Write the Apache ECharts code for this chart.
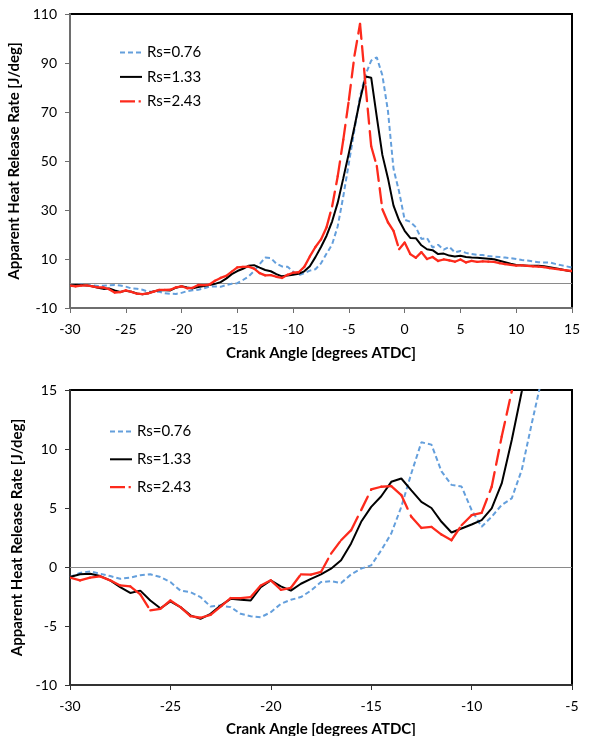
<!DOCTYPE html>
<html>
<head>
<meta charset="utf-8">
<script src="https://cdn.jsdelivr.net/npm/echarts@6/dist/echarts.min.js"></script>
<style>
  html, body { margin: 0; padding: 0; background: #fff; }
  .panel { width: 600px; height: 368px; }
</style>
</head>
<body>
<div id="overview" class="panel"></div>
<div id="detail" class="panel"></div>
<script>
// Crank angle [deg ATDC], sampled every half degree
const angles = [-30,-29.5,-29,-28.5,-28,-27.5,-27,-26.5,-26,-25.5,-25,-24.5,-24,-23.5,-23,-22.5,-22,-21.5,-21,-20.5,
  -20,-19.5,-19,-18.5,-18,-17.5,-17,-16.5,-16,-15.5,-15,-14.5,-14,-13.5,-13,-12.5,-12,-11.5,-11,-10.5,
  -10,-9.5,-9,-8.5,-8,-7.5,-7,-6.5,-6,-5.5,-5,-4.5,-4,-3.5,-3,-2.5,-2,-1.5,-1,-0.5,
  0,0.5,1,1.5,2,2.5,3,3.5,4,4.5,5,5.5,6,6.5,7,7.5,8,8.5,9,9.5,
  10,10.5,11,11.5,12,12.5,13,13.5,14,14.5,15];

// Apparent heat release rate [J/deg]
const rs076 = [-0.85,-0.5,-0.37,-0.57,-0.77,-1.0,-0.9,-0.7,-0.62,-0.85,
  -1.28,-2.0,-2.13,-2.55,-3.35,-3.27,-3.4,-3.97,-4.17,-4.26,
  -3.83,-3.12,-2.78,-2.55,-2.0,-1.28,-1.2,-1.36,-0.62,-0.14,
  0.14,1.42,2.84,5.1,7.95,10.57,10.37,8.1,6.96,6.82,
  4.83,3.41,4.26,5.26,5.82,8.24,12.2,16.0,23.4,35.6,
  49.2,62.8,76.4,85.3,91.0,92.3,85.0,70.5,46.8,37.5,
  26.0,25.2,23.0,18.2,18.6,14.7,15.8,13.8,15.0,12.7,
  13.3,12.5,12.0,11.7,11.6,11.2,11.0,10.8,10.6,10.3,
  10.0,9.6,9.4,9.0,8.7,8.6,8.6,8.0,7.5,7.0,
  6.5];

const rs133 = [-0.85,-0.62,-0.57,-0.77,-1.13,-1.7,-2.2,-2.0,-2.84,-3.5,
  -2.92,-3.4,-4.1,-4.4,-3.97,-3.27,-2.7,-2.78,-2.84,-1.7,
  -1.13,-1.64,-2.0,-1.42,-1.0,-0.62,-0.14,0.57,2.0,3.83,
  5.1,6.0,7.22,7.5,6.5,5.52,5.0,3.83,2.92,3.26,
  3.6,3.97,4.96,7.08,10.76,14.9,19.5,25.4,33.0,43.0,
  53.3,64.0,75.0,84.5,84.0,68.0,52.5,43.0,31.8,25.8,
  21.5,18.6,18.5,15.6,14.0,13.6,12.0,12.2,11.4,11.0,
  11.3,10.8,10.6,10.5,10.3,10.1,9.9,9.3,8.7,8.1,
  7.6,7.4,7.2,7.2,7.2,7.0,6.6,6.2,5.8,5.3,
  4.9];

const rs243 = [-0.9,-1.13,-0.9,-0.8,-1.13,-1.56,-1.64,-2.32,-3.68,-3.54,
  -2.84,-3.4,-4.17,-4.3,-4.05,-3.35,-2.63,-2.63,-2.55,-1.56,
  -1.13,-1.93,-1.76,-0.62,-0.65,-0.42,1.13,2.27,3.12,4.82,
  6.57,6.8,6.86,6.1,4.25,3.31,3.4,2.75,2.27,3.54,
  4.39,4.59,6.8,11.05,14.9,18.0,23.0,31.5,43.8,58.7,
  75.0,93.0,106.0,80.5,56.0,48.0,30.3,25.0,21.5,14.0,
  16.7,12.0,10.5,12.8,10.0,10.8,9.2,9.8,9.4,8.9,
  9.8,8.6,9.2,8.8,9.0,8.9,8.8,8.3,7.9,7.6,
  7.3,7.4,7.2,7.0,6.9,6.7,6.3,6.0,5.7,5.4,
  5.1];

const seriesNames = ['Rs=0.76', 'Rs=1.33', 'Rs=2.43'];
const overviewYTicks = [-10, 10, 30, 50, 70, 90, 110];
const detailYTicks = [-10, -5, 0, 5, 10, 15];

const xTitle = 'Crank Angle [degrees ATDC]';
const yTitle = 'Apparent Heat Release Rate [J/deg]';

const BLUE = '#649fdc';
const BLACK = '#000000';
const RED = '#fd2a1c';
const FONT = 'Lato';

function pairs(ys) {
  return angles.map((a, i) => [a, ys[i]]);
}

// The long-dash series restarts its dash pattern on every segment,
// so it is drawn segment by segment.
function segments(ys) {
  const out = [];
  for (let i = 0; i < angles.length - 1; i++) {
    out.push([angles[i], ys[i], angles[i + 1], ys[i + 1]]);
  }
  return out;
}

function renderSegment(params, api) {
  const p0 = api.coord([api.value(0), api.value(1)]);
  const p1 = api.coord([api.value(2), api.value(3)]);
  return {
    type: 'line',
    shape: { x1: p0[0], y1: p0[1], x2: p1[0], y2: p1[1] },
    style: { stroke: RED, lineWidth: 2.3, lineDash: [15, 7.5], lineCap: 'round', fill: null }
  };
}

// legend samples (22 x 14 box, stroke drawn across the middle)
const blueIcon = 'path://M0,0M22,14M0,6h5v2h-5zM8,6h5v2h-5zM16,6h5v2h-5z';
const blackIcon = 'path://M0,0M22,14M0,6h22v2h-22z';
const redIcon = 'path://M0,0M22,14M0,5.9h15v2.3h-15zM18.6,5.9h2.2v2.3h-2.2z';

function buildOption(cfg) {
  return {
    animation: false,
    textStyle: { fontFamily: FONT },
    grid: {
      left: 70, right: 28, top: cfg.gridTop, height: cfg.gridHeight,
      outerBoundsMode: 'none', containLabel: false,
      show: true, borderColor: '#000', borderWidth: 2, backgroundColor: 'transparent'
    },
    legend: {
      orient: 'vertical', left: cfg.legendLeft, top: cfg.legendTop, padding: 0,
      itemWidth: 22, itemHeight: 14, itemGap: cfg.legendGap,
      textStyle: { fontSize: 15, color: '#000', fontFamily: FONT },
      data: [
        { name: seriesNames[0], icon: blueIcon, itemStyle: { color: BLUE } },
        { name: seriesNames[1], icon: blackIcon, itemStyle: { color: BLACK } },
        { name: seriesNames[2], icon: redIcon, itemStyle: { color: RED } }
      ]
    },
    xAxis: {
      type: 'value', min: cfg.xMin, max: cfg.xMax, interval: 5,
      name: xTitle, nameLocation: 'middle', nameGap: cfg.xNameGap,
      nameTextStyle: { fontSize: 15, fontWeight: 'bold', color: '#000', fontFamily: FONT },
      axisLine: { onZero: false, lineStyle: { color: cfg.axisColor, width: 2 } },
      axisTick: { show: true, inside: false, length: 5, lineStyle: { color: cfg.axisColor, width: 1 } },
      axisLabel: { fontSize: 14, color: '#000', margin: 14, fontFamily: FONT },
      splitLine: { show: false }
    },
    yAxis: {
      type: 'value', min: cfg.yMin, max: cfg.yMax,
      name: yTitle, nameLocation: 'middle', nameGap: 42,
      nameTextStyle: { fontSize: 15, fontWeight: 'bold', color: '#000', fontFamily: FONT },
      axisLine: { show: true, onZero: false, lineStyle: { color: cfg.axisColor, width: 2 } },
      axisTick: { show: true, inside: false, length: 5, customValues: cfg.yTicks,
                  lineStyle: { color: cfg.axisColor, width: 1 } },
      axisLabel: { fontSize: 14, color: '#000', margin: 13, fontFamily: FONT, customValues: cfg.yTicks },
      splitLine: { show: false }
    },
    series: [
      {
        name: seriesNames[0], type: 'line', data: pairs(rs076),
        symbol: 'none', showSymbol: false, clip: true, z: 2,
        lineStyle: { color: BLUE, width: 2, type: [5, 3] },
        itemStyle: { color: BLUE }
      },
      {
        name: seriesNames[1], type: 'line', data: pairs(rs133),
        symbol: 'none', showSymbol: false, clip: true, z: 3,
        lineStyle: { color: BLACK, width: 2, type: 'solid' },
        itemStyle: { color: BLACK },
        markLine: {
          silent: true, symbol: 'none', z: 1, animation: false,
          label: { show: false },
          lineStyle: { color: '#8a8a8a', width: 1, type: 'solid' },
          data: [{ yAxis: 0 }]
        }
      },
      {
        name: seriesNames[2], type: 'custom', data: segments(rs243),
        renderItem: renderSegment, clip: true, z: 4,
        encode: { x: [0, 2], y: [1, 3] },
        itemStyle: { color: RED }
      }
    ]
  };
}

const overview = echarts.init(document.getElementById('overview'));
overview.setOption(buildOption({
  gridTop: 14, gridHeight: 294, xMin: -30, xMax: 15, yMin: -10, yMax: 110, yTicks: overviewYTicks,
  legendLeft: 120, legendTop: 45, legendGap: 9.4, axisColor: '#6e6e6e', xNameGap: 38
}));

const detail = echarts.init(document.getElementById('detail'));
detail.setOption(buildOption({
  gridTop: 22, gridHeight: 295, xMin: -30, xMax: -5, yMin: -10, yMax: 15, yTicks: detailYTicks,
  legendLeft: 110, legendTop: 56, legendGap: 12.8, axisColor: '#333333', xNameGap: 37
}));
</script>
</body>
</html>
